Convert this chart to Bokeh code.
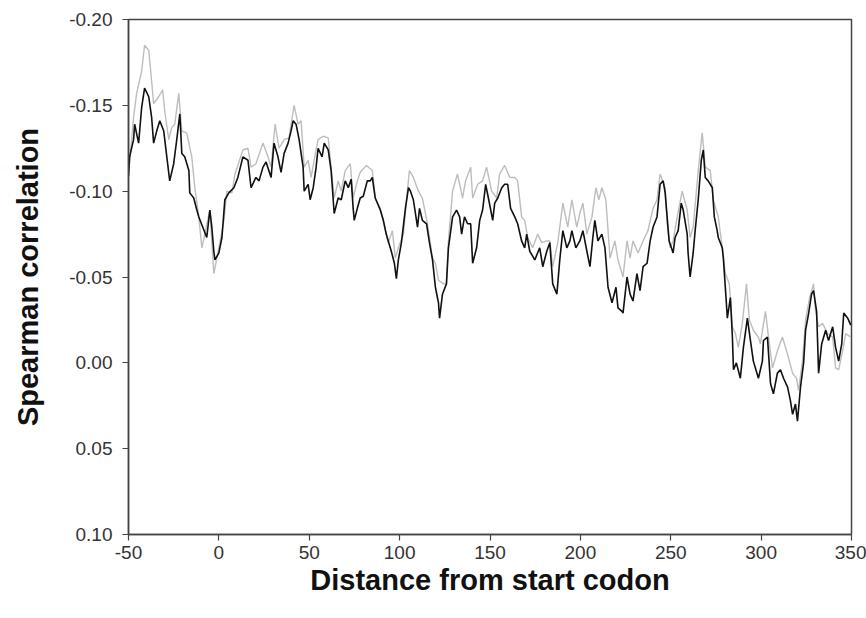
from bokeh.plotting import figure
from bokeh.models import Range1d, FixedTicker, PrintfTickFormatter, ColumnDataSource
from bokeh.embed import file_html
from bokeh.resources import INLINE

# Distance from start codon / Spearman correlation, black series
black_x = [-50, -49.4, -47.2, -46.6, -44.4, -42.7, -41.1, -38.8, -37.2, -36.1, -34.4, -32.7, -30.5,
           -28.8, -27.2, -25.0, -23.3, -21.6, -20.5, -18.9, -16.6, -16.1, -13.9, -12.2, -11.1, -6.7,
           -5.0, -3.9, -2.8, -2.2, 0, 1.7, 3.3, 5.5, 8.3, 10.5, 13.3, 16.1, 17.8, 20.5, 22.2, 24.4,
           26.1, 28.9, 30.5, 32.7, 34.4, 36.1, 38.3, 39.9, 41.1, 42.7, 44.4, 46.6, 47.2, 49.4, 50.5,
           52.2, 53.8, 54.9, 57.1, 58.3, 60.5, 62.1, 63.8, 66.0, 67.7, 69.9, 71.6, 73.2, 74.3, 74.9,
           76.6, 78.2, 79.9, 82.1, 83.8, 84.9, 86.5, 89.3, 91.0, 92.6, 93.7, 95.4, 97.1, 98.2, 99.3,
           101.0, 103.2, 104.9, 106.0, 107.6, 109.9, 111.0, 112.6, 114.9, 116.5, 118.2, 119.8, 121.5,
           122.1, 123.7, 125.9, 127.0, 129.3, 131.5, 133.2, 134.3, 135.9, 137.6, 139.3, 140.4, 142.6,
           144.3, 145.9, 147.6, 149.3, 151.5, 152.6, 154.3, 156.5, 158.1, 159.8, 161.4, 163.7, 165.3,
           167.5, 169.2, 170.3, 172.0, 174.8, 177.5, 179.2, 181.4, 183.1, 184.7, 187.0, 188.6, 190.3,
           192.5, 194.2, 195.3, 197.5, 199.7, 201.4, 203.6, 205.3, 206.9, 208.0, 209.7, 211.9, 213.6,
           215.3, 217.5, 219.7, 220.8, 223.0, 223.6, 225.8, 227.5, 229.1, 231.3, 233.0, 234.7, 236.9,
           238.6, 240.2, 242.4, 244.1, 245.8, 246.9, 248.0, 249.1, 251.3, 252.4, 254.1, 255.8, 256.9,
           259.1, 259.6, 260.7, 262.4, 263.5, 265.2, 266.9, 268.0, 269.1, 270.7, 273.0, 274.1, 275.7,
           276.3, 278.5, 279.1, 280.7, 281.3, 283.0, 284.1, 284.7, 286.3, 288.5, 290.2, 292.4, 294.1,
           295.7, 298.5, 300.7, 301.3, 303.5, 305.2, 306.8, 309.0, 310.7, 312.4, 314.6, 316.2, 317.4,
           319.0, 320.1, 321.8, 323.5, 324.6, 326.3, 327.9, 329.0, 330.7, 331.8, 333.5, 335.7, 337.3,
           339.6, 341.2, 342.9, 344.6, 345.7, 347.9, 349.6]
black_y = [-0.109, -0.120, -0.130, -0.139, -0.128, -0.149, -0.160, -0.155, -0.143, -0.128, -0.135,
           -0.141, -0.135, -0.120, -0.106, -0.116, -0.130, -0.145, -0.122, -0.120, -0.112, -0.099,
           -0.096, -0.089, -0.085, -0.073, -0.089, -0.079, -0.065, -0.060, -0.064, -0.073, -0.095,
           -0.099, -0.102, -0.108, -0.120, -0.118, -0.102, -0.108, -0.106, -0.114, -0.117, -0.108,
           -0.128, -0.120, -0.111, -0.122, -0.128, -0.135, -0.141, -0.139, -0.130, -0.114, -0.100,
           -0.104, -0.095, -0.102, -0.114, -0.125, -0.120, -0.128, -0.124, -0.112, -0.087, -0.096,
           -0.095, -0.106, -0.102, -0.107, -0.090, -0.083, -0.090, -0.096, -0.097, -0.106, -0.106,
           -0.108, -0.096, -0.089, -0.083, -0.075, -0.071, -0.065, -0.058, -0.049, -0.060, -0.070,
           -0.090, -0.102, -0.100, -0.095, -0.079, -0.090, -0.083, -0.081, -0.070, -0.060, -0.044,
           -0.035, -0.026, -0.040, -0.046, -0.067, -0.085, -0.089, -0.085, -0.075, -0.085, -0.081,
           -0.081, -0.058, -0.067, -0.083, -0.089, -0.104, -0.095, -0.083, -0.093, -0.096, -0.102,
           -0.104, -0.104, -0.090, -0.085, -0.081, -0.071, -0.067, -0.075, -0.065, -0.060, -0.067,
           -0.056, -0.065, -0.070, -0.046, -0.040, -0.060, -0.077, -0.067, -0.071, -0.077, -0.067,
           -0.071, -0.077, -0.065, -0.056, -0.073, -0.083, -0.071, -0.075, -0.067, -0.044, -0.035,
           -0.044, -0.032, -0.030, -0.029, -0.050, -0.040, -0.036, -0.052, -0.042, -0.056, -0.058,
           -0.071, -0.079, -0.085, -0.104, -0.106, -0.099, -0.085, -0.071, -0.064, -0.073, -0.077,
           -0.093, -0.089, -0.075, -0.064, -0.050, -0.064, -0.077, -0.095, -0.118, -0.124, -0.108,
           -0.106, -0.102, -0.085, -0.077, -0.073, -0.067, -0.061, -0.036, -0.026, -0.038, -0.015,
           0.004, 0.000, 0.009, -0.009, -0.026, -0.013, -0.001, 0.009, -0.001, -0.013, -0.015, 0.012,
           0.018, 0.006, 0.004, 0.009, 0.014, 0.022, 0.030, 0.024, 0.034, 0.014, 0.000, -0.019,
           -0.029, -0.040, -0.042, -0.030, 0.006, -0.011, -0.019, -0.013, -0.021, -0.009, -0.001,
           -0.011, -0.029, -0.026, -0.022]

# light gray series
gray_x = [-50, -47.2, -45.5, -42.7, -41.1, -38.8, -37.2, -36.1, -33.3, -31.1, -30.0, -27.7, -26.1,
          -24.4, -22.2, -20.5, -17.8, -15.0, -13.3, -11.1, -9.4, -7.8, -5.0, -2.8, 0, 2.8, 4.4, 7.2,
          8.9, 13.3, 16.1, 17.8, 20.5, 24.4, 27.2, 28.9, 31.1, 33.3, 36.1, 38.8, 41.6, 43.8, 45.5,
          47.2, 49.4, 51.0, 52.7, 54.9, 57.7, 60.5, 62.1, 63.8, 66.0, 67.7, 69.9, 72.7, 74.3, 76.6,
          78.2, 81.6, 84.9, 86.5, 89.3, 92.1, 93.7, 96.0, 97.6, 99.3, 102.1, 104.3, 105.4, 107.6,
          110.4, 112.6, 115.4, 118.2, 119.8, 121.5, 124.3, 125.9, 127.0, 129.3, 132.0, 134.8, 136.5,
          139.3, 140.4, 143.2, 145.9, 148.1, 150.9, 153.7, 155.3, 158.1, 160.9, 163.7, 165.3, 167.5,
          169.2, 170.9, 173.6, 176.4, 178.6, 181.4, 183.1, 184.7, 187.5, 190.3, 193.0, 195.3, 198.0,
          199.7, 201.4, 203.6, 206.4, 208.6, 210.2, 211.9, 214.1, 216.4, 219.1, 220.8, 223.6, 225.8,
          227.5, 229.1, 231.9, 234.7, 237.4, 240.2, 242.4, 244.1, 246.9, 248.0, 249.7, 251.3, 253.6,
          256.3, 259.1, 260.7, 262.4, 265.2, 267.4, 269.1, 271.9, 273.5, 276.3, 278.5, 280.2, 282.4,
          284.1, 285.8, 287.4, 289.6, 291.9, 293.5, 295.7, 298.5, 299.6, 302.4, 304.1, 306.3, 309.0,
          311.8, 314.6, 317.4, 319.6, 320.7, 322.9, 324.6, 326.8, 329.0, 330.1, 331.8, 334.0, 336.8,
          339.6, 341.2, 342.9, 345.1, 346.8, 349.6]
gray_y = [-0.109, -0.143, -0.157, -0.170, -0.185, -0.182, -0.164, -0.151, -0.155, -0.159, -0.147,
          -0.130, -0.137, -0.139, -0.157, -0.135, -0.134, -0.120, -0.102, -0.085, -0.067, -0.075,
          -0.089, -0.052, -0.067, -0.083, -0.100, -0.099, -0.110, -0.124, -0.125, -0.114, -0.116,
          -0.128, -0.120, -0.114, -0.139, -0.125, -0.130, -0.131, -0.150, -0.139, -0.141, -0.114,
          -0.118, -0.108, -0.118, -0.130, -0.132, -0.131, -0.114, -0.096, -0.106, -0.100, -0.112,
          -0.116, -0.096, -0.106, -0.111, -0.115, -0.112, -0.096, -0.090, -0.077, -0.070, -0.077,
          -0.061, -0.067, -0.075, -0.100, -0.112, -0.108, -0.100, -0.096, -0.081, -0.061, -0.058,
          -0.048, -0.046, -0.046, -0.071, -0.100, -0.110, -0.096, -0.106, -0.114, -0.096, -0.104,
          -0.106, -0.114, -0.100, -0.096, -0.110, -0.115, -0.108, -0.108, -0.106, -0.085, -0.083,
          -0.073, -0.067, -0.075, -0.070, -0.071, -0.071, -0.056, -0.070, -0.093, -0.079, -0.095,
          -0.079, -0.087, -0.093, -0.075, -0.085, -0.102, -0.095, -0.102, -0.095, -0.061, -0.071,
          -0.060, -0.050, -0.071, -0.061, -0.071, -0.064, -0.071, -0.077, -0.090, -0.095, -0.110,
          -0.102, -0.081, -0.067, -0.071, -0.085, -0.100, -0.089, -0.073, -0.079, -0.112, -0.134,
          -0.114, -0.112, -0.095, -0.085, -0.067, -0.052, -0.046, -0.021, -0.017, -0.009, -0.023,
          -0.046, -0.025, -0.019, -0.015, -0.011, -0.030, -0.015, 0.003, -0.007, -0.015, -0.005,
          0.006, 0.009, 0.016, -0.001, -0.025, -0.038, -0.046, -0.030, -0.021, -0.023, -0.017,
          -0.015, 0.003, 0.004, -0.007, -0.017, -0.015]

x_ticks = [-50, 0, 50, 100, 150, 200, 250, 300, 350]
y_ticks = [-0.20, -0.15, -0.10, -0.05, 0.00, 0.05, 0.10]

p = figure(width=866, height=618, output_backend="svg", toolbar_location=None,
           x_range=Range1d(-50, 350), y_range=Range1d(0.10, -0.20),
           min_border_left=128, min_border_right=15, min_border_top=19, min_border_bottom=84)

p.background_fill_color = "white"
p.border_fill_color = "white"
p.outline_line_color = "#444444"
p.outline_line_width = 1.5
p.xgrid.visible = False
p.ygrid.visible = False

gray_src = ColumnDataSource(dict(x=gray_x, y=gray_y))
black_src = ColumnDataSource(dict(x=black_x, y=black_y))
p.line("x", "y", source=gray_src, line_color="#bdbdbd", line_width=1.4)
p.line("x", "y", source=black_src, line_color="#111111", line_width=1.6)

for ax in (p.xaxis[0], p.yaxis[0]):
    ax.axis_line_color = "#444444"
    ax.axis_line_width = 1.5
    ax.major_tick_line_color = "#444444"
    ax.major_tick_line_width = 1.2
    ax.major_tick_out = 6
    ax.major_tick_in = 0
    ax.minor_tick_line_color = None
    ax.major_label_text_font = "Liberation Sans"
    ax.major_label_text_font_size = "19px"
    ax.major_label_text_color = "#333333"
    ax.axis_label_text_font = "Liberation Sans"
    ax.axis_label_text_font_style = "bold"
    ax.axis_label_text_font_size = "29px"
    ax.axis_label_text_color = "#111111"

p.xaxis.ticker = FixedTicker(ticks=x_ticks)
p.yaxis.ticker = FixedTicker(ticks=y_ticks)
p.xaxis.formatter = PrintfTickFormatter(format="%d")
p.yaxis.formatter = PrintfTickFormatter(format="%.2f")
p.xaxis.axis_label = "Distance from start codon"
p.yaxis.axis_label = "Spearman correlation"
p.xaxis.major_label_standoff = 5
p.yaxis.major_label_standoff = 10
p.xaxis.axis_label_standoff = 2
p.yaxis.axis_label_standoff = 22

open("out.html", "w").write(file_html(p, INLINE))
